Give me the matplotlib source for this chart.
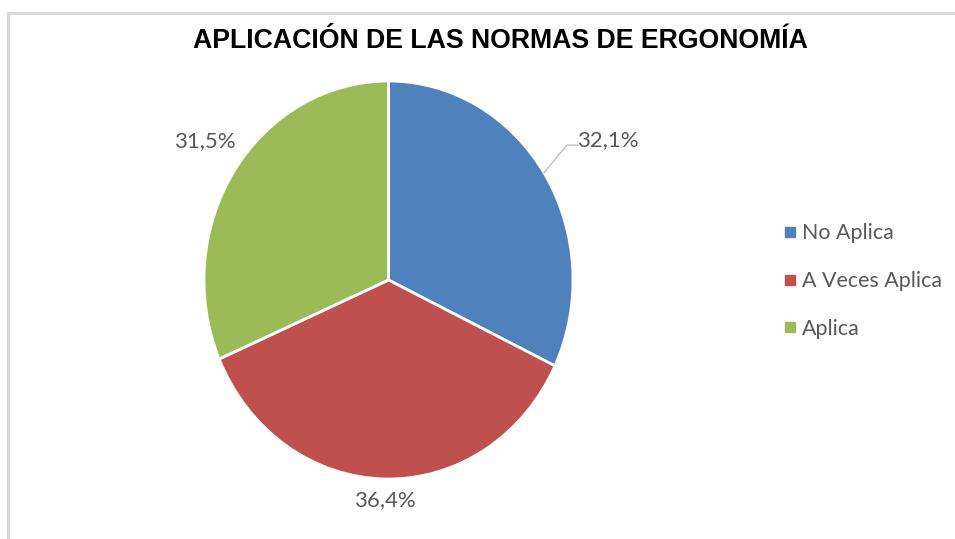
import matplotlib.pyplot as plt
import numpy as np
from matplotlib.lines import Line2D

# data
categories = ['No Aplica', 'A Veces Aplica', 'Aplica']
values = [32.1, 36.4, 31.5]
labels = ['32,1%', '36,4%', '31,5%']
colors = ['#4F81BD', '#C0504D', '#9BBB59']
title = 'APLICACIÓN DE LAS NORMAS DE ERGONOMÍA'

fig = plt.figure(figsize=(9.55, 5.39), dpi=100)

# light gray frame (top and left edges visible)
fig.add_artist(Line2D([8/955, 1], [1-13/539, 1-13/539], color='#d9d9d9', lw=2.2))
fig.add_artist(Line2D([8/955, 8/955], [0, 1-13/539], color='#d9d9d9', lw=2.2))

fig.text(500/955, 1-41/539, title, ha='center', va='center', fontsize=19.2,
         fontweight='bold', family='Liberation Sans')

# pie is slightly stretched vertically in the reference
ax = fig.add_axes([0.2136, 0.1113, 0.3864, 0.7384])
wedges, _ = ax.pie(values, colors=colors, startangle=90, counterclock=False,
                   radius=1, wedgeprops=dict(edgecolor='white', linewidth=2))
ax.set_xlim(-1, 1)
ax.set_ylim(-1, 1)
ax.set_aspect('auto')
ax.axis('off')

# label distance and angle for each slice
dist = [1.38, 1.106, 1.215]
angles = [30.7, None, 144.9]
for w, lab, d, a in zip(wedges, labels, dist, angles):
    if a is None:
        a = (w.theta1 + w.theta2) / 2
    ang = np.deg2rad(a)
    x, y = d * np.cos(ang), d * np.sin(ang)
    ax.text(x, y, lab, ha='center', va='center', fontsize=16,
            color='#595959', family='Lato', clip_on=False)

# leader line for first slice
ang = np.deg2rad(32.6)
x0, y0 = np.cos(ang), np.sin(ang)
ax.plot([x0, 0.967, 1.027], [y0, 0.678, 0.678], color='#bfbfbf', lw=1, clip_on=False)

handles = [Line2D([], [], marker='s', ls='', color=c, markersize=7) for c in colors]
fig.legend(handles, categories, loc='upper left', bbox_to_anchor=(0.798, 1-204/539),
           frameon=False, labelspacing=1.3, handletextpad=0.15,
           handlelength=0.8, prop={'family': 'Lato', 'size': 15.4},
           labelcolor='#595959')

fig.savefig('out.png', dpi=100)
